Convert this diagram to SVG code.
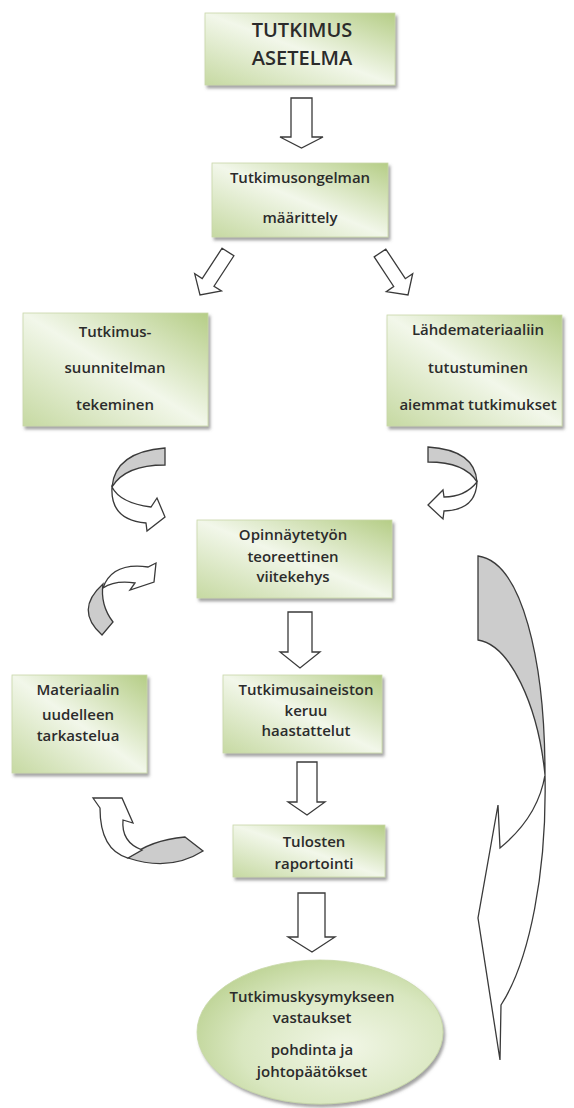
<svg xmlns="http://www.w3.org/2000/svg" width="574" height="1108" viewBox="0 0 574 1108">
<defs>
<linearGradient id="boxg" x1="1" y1="0" x2="0" y2="1">
<stop offset="0" stop-color="#b5cd86"/>
<stop offset="0.5" stop-color="#f2f7ea"/>
<stop offset="1" stop-color="#c6d9a2"/>
</linearGradient>
<radialGradient id="ellg" cx="0.6" cy="0.6" r="0.7">
<stop offset="0" stop-color="#f1f6e6"/>
<stop offset="0.6" stop-color="#d9e7c0"/>
<stop offset="1" stop-color="#b9d08e"/>
</radialGradient>
<filter id="sh" x="-10%" y="-10%" width="125%" height="130%">
<feDropShadow dx="2" dy="3" stdDeviation="1.5" flood-color="#666" flood-opacity="0.6"/>
</filter>
<style>
.box{fill:url(#boxg);stroke:#c8d8a8;stroke-width:0.8;filter:url(#sh)}
.t{font-family:"Open Sans","Liberation Sans",sans-serif;font-weight:600;font-size:15px;fill:#2b2b2b;text-anchor:middle}
.big{font-size:20px}
.arr{fill:#fff;stroke:#3a3a3a;stroke-width:1.3;stroke-linejoin:miter}
.grey{fill:#cccccc;stroke:#3a3a3a;stroke-width:1.3}
</style>
</defs>
<rect width="574" height="1108" fill="#fff"/>

<g id="connectors">
<polygon class="arr" points="291,98 312,98 312,137 323,137 301.5,148 280,137 291,137"/>
<polygon class="arr" points="222.1,248.2 233.9,255.8 214,286.2 221.5,291 200,295 194.7,273.8 202.2,278.6"/>
<polygon class="arr" points="374.2,256.9 385.8,249.1 405.3,278.7 412.7,273.6 408,295 386.3,291.6 393.7,286.5"/>
<polygon class="arr" points="288,612 312,612 312,652 320,652 300,668 280,652 288,652"/>
<polygon class="arr" points="297,762 317,762 317,802 325,802 307,815 288,802 297,802"/>
<polygon class="arr" points="298,893 325,893 325,937 335,937 312,952 288,937 298,937"/>
<!-- curved arrow left top -->
<path class="grey" d="M165,448 L165,465 Q125,465 112,487 Q115,452 165,448 Z"/>
<path class="arr" d="M112,487 Q110,520 146,523 L147,531 L165,517 L157,498 L151,507 Q120,503 112,487 Z"/>
<!-- curved arrow right top -->
<path class="grey" d="M428,447 Q475,450 477,482 Q465,462 428,462 Z"/>
<path class="arr" d="M477,482 Q476,510 444,511 L443,519 L428,505 L443,490 L444,497 Q465,497 477,482 Z"/>
<!-- curved arrow left middle -->
<path class="grey" d="M103,584 Q74,610 102,635 L113,622 Q100,605 103,584 Z"/>
<path class="arr" d="M103,588 Q112,562 148,567 L156,563 L154,582 L130,590 L135,583 Q115,580 103,588 Z"/>
<!-- curved arrow bottom left -->
<path class="grey" d="M185,837 L203,851 Q170,872 128,858 Q150,840 185,837 Z"/>
<path class="arr" d="M100,808 L93,798 L122,798 L133,823 L123,820 Q121,842 142,850 L128,858 Q100,850 100,808 Z"/>
<!-- large right arrow -->
<path class="grey" d="M478,556 C522,562 545,660 545,775 C538,705 510,645 478,640 Z"/>
<path class="arr" d="M545,775 C547,870 530,960 501,1005 L500,1060 L478,918 L498,805 L500,848 C522,830 540,805 545,775 Z"/>
</g>

<g id="n1">
<rect class="box" x="205" y="13" width="190" height="72"/>
<text class="t big" x="302" y="37">TUTKIMUS</text>
<text class="t big" x="302" y="65">ASETELMA</text>
</g>
<g id="n2">
<rect class="box" x="212" y="163" width="176" height="74"/>
<text class="t" x="300" y="183">Tutkimusongelman</text>
<text class="t" x="300" y="223">määrittely</text>
</g>
<g id="n3">
<rect class="box" x="23" y="313" width="185" height="113"/>
<text class="t" x="115" y="337">Tutkimus-</text>
<text class="t" x="115" y="373">suunnitelman</text>
<text class="t" x="115" y="410">tekeminen</text>
</g>
<g id="n4">
<rect class="box" x="387" y="315" width="175" height="111"/>
<text class="t" x="478" y="335">Lähdemateriaaliin</text>
<text class="t" x="478" y="373">tutustuminen</text>
<text class="t" x="478" y="410">aiemmat tutkimukset</text>
</g>
<g id="n5">
<rect class="box" x="197" y="520" width="195" height="78"/>
<text class="t" x="293" y="540">Opinnäytetyön</text>
<text class="t" x="293" y="562">teoreettinen</text>
<text class="t" x="293" y="582">viitekehys</text>
</g>
<g id="n6">
<rect class="box" x="12" y="675" width="135" height="98"/>
<text class="t" x="78" y="695">Materiaalin</text>
<text class="t" x="78" y="720">uudelleen</text>
<text class="t" x="78" y="741">tarkastelua</text>
</g>
<g id="n7">
<rect class="box" x="223" y="675" width="159" height="78"/>
<text class="t" x="306" y="695">Tutkimusaineiston</text>
<text class="t" x="306" y="716">keruu</text>
<text class="t" x="306" y="736">haastattelut</text>
</g>
<g id="n8">
<rect class="box" x="233" y="825" width="152" height="52"/>
<text class="t" x="314" y="847">Tulosten</text>
<text class="t" x="314" y="869">raportointi</text>
</g>
<g id="n9">
<ellipse cx="320" cy="1032" rx="123" ry="72" fill="url(#ellg)" stroke="#c8d8a8" stroke-width="0.8" filter="url(#sh)"/>
<text class="t" x="312" y="1002">Tutkimuskysymykseen</text>
<text class="t" x="312" y="1023">vastaukset</text>
<text class="t" x="312" y="1055">pohdinta ja</text>
<text class="t" x="312" y="1077">johtopäätökset</text>
</g>
</svg>
